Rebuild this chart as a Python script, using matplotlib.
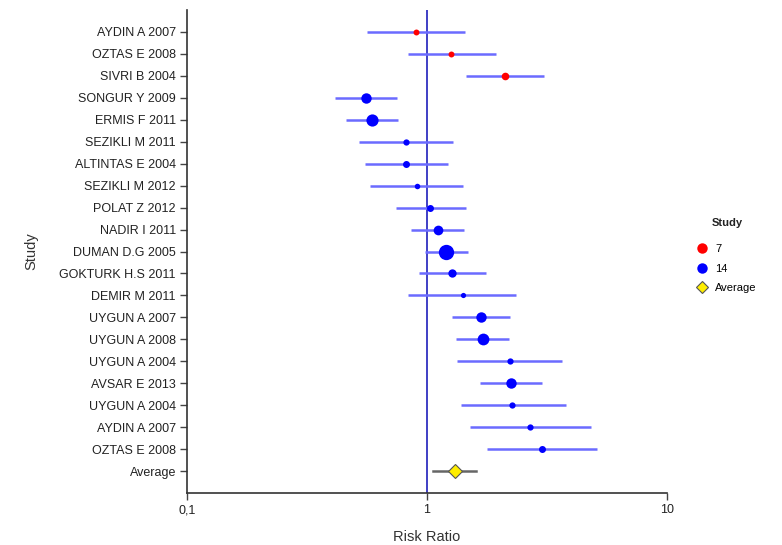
import matplotlib
matplotlib.use("Agg")
import matplotlib.pyplot as plt
from matplotlib.lines import Line2D
import numpy as np

plt.rcParams['font.family'] = ['Liberation Sans', 'DejaVu Sans']

studies = ["AYDIN A 2007", "OZTAS E 2008", "SIVRI B 2004", "SONGUR Y 2009", "ERMIS F 2011",
           "SEZIKLI M 2011", "ALTINTAS E 2004", "SEZIKLI M 2012", "POLAT Z 2012", "NADIR I 2011",
           "DUMAN D.G 2005", "GOKTURK H.S 2011", "DEMIR M 2011", "UYGUN A 2007", "UYGUN A 2008",
           "UYGUN A 2004", "AVSAR E 2013", "UYGUN A 2004", "AYDIN A 2007", "OZTAS E 2008"]
groups = ["7", "7", "7"] + ["14"] * 17
rr = [0.90, 1.26, 2.12, 0.557, 0.589, 0.82, 0.82, 0.908, 1.03, 1.11,
      1.20, 1.27, 1.41, 1.68, 1.71, 2.22, 2.23, 2.27, 2.69, 3.00]
lower = [0.56, 0.83, 1.46, 0.414, 0.458, 0.522, 0.552, 0.58, 0.74, 0.857,
         0.984, 0.923, 0.834, 1.27, 1.32, 1.33, 1.67, 1.39, 1.51, 1.77]
upper = [1.44, 1.93, 3.06, 0.75, 0.755, 1.28, 1.22, 1.41, 1.45, 1.43,
         1.48, 1.76, 2.36, 2.22, 2.20, 3.65, 3.00, 3.78, 4.81, 5.12]
weights = [5.7, 5.7, 7.3, 10.0, 11.7, 6.0, 6.7, 5.3, 6.7, 9.3,
           14.7, 8.0, 5.0, 10.0, 11.3, 6.0, 10.0, 6.0, 6.0, 6.7]
avg_label = "Average"
avg_rr = 1.31
avg_lower = 1.06
avg_upper = 1.60

group_colors = {"7": "#ff0000", "14": "#0000ff"}

fig = plt.figure(figsize=(7.82, 5.45), dpi=100)
ax = fig.add_axes([187/782, 1 - 493/545, 480/782, 483/545])

n = len(studies)
ys = np.arange(n)
for i in range(n):
    ax.plot([lower[i], upper[i]], [ys[i], ys[i]], color="#6b6bff", lw=1.8, zorder=2,
            solid_capstyle="butt")
    ax.plot(rr[i], ys[i], "o", color=group_colors[groups[i]], markersize=weights[i] * 0.75,
            markeredgewidth=0, zorder=3)

ya = n
ax.plot([avg_lower, avg_upper], [ya, ya], color="#666666", lw=1.8, zorder=2)
ax.plot(avg_rr, ya, "D", color="#ffee00", markeredgecolor="#555555", markeredgewidth=0.8,
        markersize=7, zorder=3)

ax.axvline(1, color="#3030c0", lw=1.3, zorder=1)

ax.set_xscale("log")
ax.set_xlim(0.1, 10)
ax.set_ylim(n + 1, -1)
ax.set_xticks([0.1, 1, 10])
ax.set_xticklabels(["0,1", "1", "10"])
ax.xaxis.set_minor_locator(matplotlib.ticker.NullLocator())
ax.set_yticks(list(ys) + [ya])
ax.set_yticklabels(studies + [avg_label])

for s in ["top", "right"]:
    ax.spines[s].set_visible(False)
for s in ["left", "bottom"]:
    ax.spines[s].set_color("#333333")
    ax.spines[s].set_linewidth(1.2)
ax.tick_params(axis="both", length=5, width=1.0, color="#444444", labelsize=9,
               labelcolor="#222222", pad=3)

ax.set_xlabel("Risk Ratio", fontsize=10.5, color="#333333", labelpad=10)
ax.set_ylabel("Study", fontsize=10.5, color="#333333", labelpad=15)

fig.text(727/782, 1 - 223/545, "Study", ha="center", va="center", fontsize=8,
         fontweight="bold", color="#222222")
handles = [
    Line2D([], [], marker="o", color="#ff0000", linestyle="none", markersize=7.5, markeredgewidth=0),
    Line2D([], [], marker="o", color="#0000ff", linestyle="none", markersize=7.5, markeredgewidth=0),
    Line2D([], [], marker="D", color="#ffee00", markeredgecolor="#555555", markeredgewidth=0.8,
           linestyle="none", markersize=6),
]
leg = fig.legend(handles, ["7", "14", "Average"], loc="upper left",
                 bbox_to_anchor=(693/782, 1 - 242/545), frameon=False, fontsize=8,
                 handletextpad=0.6, labelspacing=0.85, handlelength=1.2,
                 borderaxespad=0, borderpad=0.2)

fig.savefig("out.png", dpi=100)
